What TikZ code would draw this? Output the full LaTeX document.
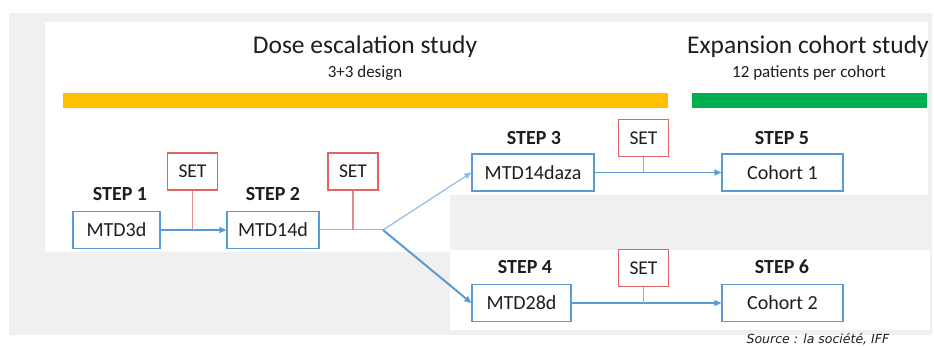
\documentclass[tikz,border=0pt]{standalone}
\usepackage{fontspec}
\setmainfont{Carlito}
\newfontfamily\srcfont{DejaVu Sans}
\usetikzlibrary{arrows.meta, positioning}
\definecolor{cblue}{HTML}{5B9BD5}
\definecolor{clightblue}{HTML}{8FBCE6}
\definecolor{cred}{HTML}{E06464}
\definecolor{cyellow}{HTML}{FFC000}
\definecolor{cgreen}{HTML}{00B050}
\definecolor{cpanel}{HTML}{F0F0F0}
\definecolor{ctext}{HTML}{1E1E1E}
\tikzset{
  every picture/.style={line width=1.2pt},
  box/.style={draw=cblue, fill=white, text=ctext, font=\fontsize{20}{22}\selectfont, minimum height=37pt, inner sep=0pt},
  setbox/.style={draw=cred, fill=white, text=ctext, font=\fontsize{19.5}{21}\selectfont, minimum width=50pt, minimum height=37pt, inner sep=0pt},
  steplabel/.style={font=\fontsize{20}{22}\selectfont\bfseries, text=ctext, anchor=base},
  arrow/.style={-{Triangle[length=7pt, width=6pt]}, draw=cblue, line width=1.2pt},
  setline/.style={draw=cred!75, line width=1.2pt},
  title/.style={font=\fontsize{25.5}{28}\selectfont, text=ctext, anchor=base},
  subtitle/.style={font=\fontsize{17}{19}\selectfont, text=ctext, anchor=base},
}

\begin{document}
\begin{tikzpicture}[x=1pt, y=-1pt]
  \useasboundingbox (0,0) rectangle (934,347);
  % panels
  \fill[cpanel] (9,13) rectangle (932,335);
  \fill[white] (45,22) -- (928,22) -- (928,195) -- (450,195) -- (450,252) -- (45,252) -- cycle;
  \fill[white] (450,250) rectangle (930,330);
  % headings and bars
  \node[title] (dose) at (365,54) {Dose escalation study};
  \node[subtitle] (design) at (365,78) {3+3 design};
  \node[title] (expansion) at (808,54) {Expansion cohort study};
  \node[subtitle] (patients) at (809,78) {12 patients per cohort};
  \fill[cyellow] (63,93) rectangle (668,108);
  \fill[cgreen] (692,93) rectangle (927,108);
  % steps
  \node[box, minimum width=87pt] (mtd3d) at (116.5,230) {MTD3d};
  \node[box, minimum width=92pt] (mtd14d) at (273,230) {MTD14d};
  \node[box, minimum width=122pt] (mtd14daza) at (533,172.5) {MTD14daza};
  \node[box, minimum width=99pt] (mtd28d) at (521.5,303) {MTD28d};
  \node[box, minimum width=121pt] (cohort1) at (782.5,172.5) {Cohort 1};
  \node[box, minimum width=121pt] (cohort2) at (782.5,303) {Cohort 2};
  \foreach \n/\x/\y/\t in {step1/120/201/1, step2/273/201/2, step3/534/145/3,
                           step4/525/274/4, step5/782/145/5, step6/782/274/6}
    \node[steplabel] (\n) at (\x,\y) {STEP \t};
  \foreach \n/\x/\y in {set1/192.5/171.5, set2/353/171.5, set3/643.5/138, set4/643.5/268}
    \node[setbox] (\n) at (\x,\y) {SET};
  % connectors
  \coordinate (fork) at (383,230);
  \draw[arrow] (mtd3d) -- (mtd14d);
  \draw[draw=clightblue, line width=1pt] (mtd14d) -- (fork);
  \draw[arrow, draw=clightblue] (fork) -- (mtd14daza.west);
  \draw[arrow, line width=2pt] (fork) -- (mtd28d.west);
  \draw[arrow] (mtd14daza) -- (cohort1);
  \draw[arrow] (mtd28d) -- (cohort2);
  \foreach \s/\b in {set1/mtd3d, set2/mtd14d, set3/mtd14daza, set4/mtd28d}
    \draw[setline] (\s.south) -- (\s.south |- \b.east);
  \node[font=\srcfont\fontsize{12.5}{14}\selectfont\itshape, text=ctext, anchor=base west, inner sep=1pt] (source) at (745,343) {Source : la société, IFF};
\end{tikzpicture}
\end{document}
